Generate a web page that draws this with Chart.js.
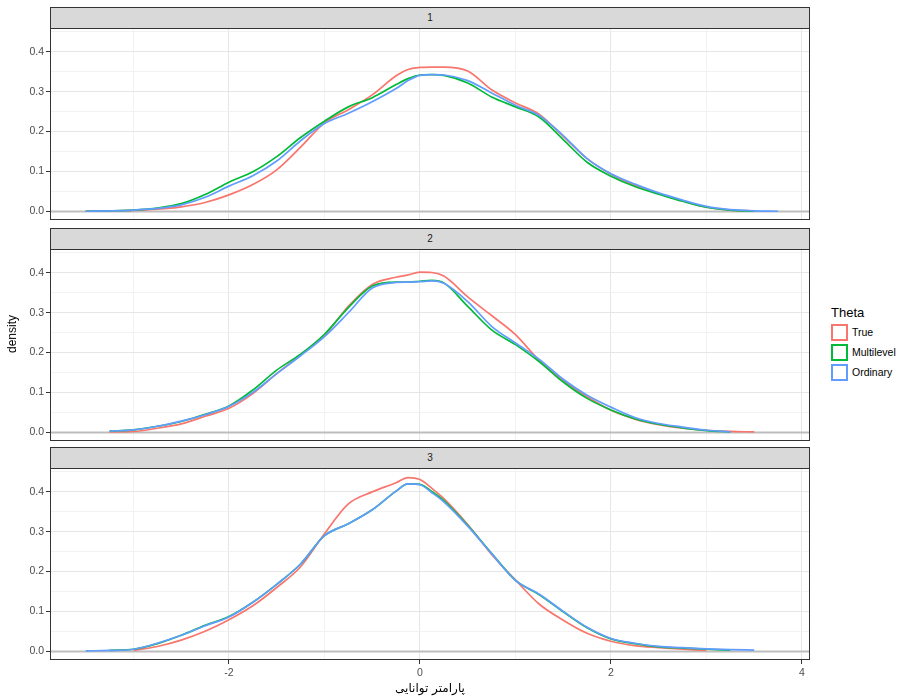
<!DOCTYPE html>
<html>
<head>
<meta charset="utf-8">
<title>Theta density</title>
<script src="https://cdn.jsdelivr.net/npm/chart.js@4/dist/chart.umd.min.js"></script>
<style>
  body { margin: 0; background: #fff; font-family: "Liberation Sans", Arial, sans-serif; }
  #wrap { position: relative; width: 898px; height: 698px; overflow: hidden; }
  .strip {
    position: absolute; left: 50px; width: 760px; height: 22px; box-sizing: border-box;
    background: #d9d9d9; border: 1px solid #333; color: #1a1a1a;
    font-size: 10px; text-align: center; line-height: 20px;
  }
  canvas { position: absolute; left: 0; }
  #ytitle {
    position: absolute; left: 12px; top: 334px; font-size: 12px; color: #000;
    transform: translate(-50%, -50%) rotate(-90deg); white-space: nowrap;
  }
  #xtitle {
    position: absolute; left: 430px; top: 688px; font-size: 12px; color: #000;
    font-family: "DejaVu Sans", sans-serif; transform: translate(-50%, -50%); white-space: nowrap;
  }
  #legend { position: absolute; left: 831px; top: 304px; }
  #legend .title { font-size: 13px; color: #000; height: 18px; line-height: 18px; }
  #legend .row { height: 20px; display: flex; align-items: center; }
  #legend .key { width: 17px; height: 17px; box-sizing: border-box; border: 2px solid; background: #fff; margin-right: 4px; }
  #legend .lab { font-size: 10.5px; color: #000; }
</style>
</head>
<body>
<div id="wrap">
  <div class="strip" style="top:7px">1</div>
  <canvas id="panel1" width="812" height="192" style="top:28px"></canvas>
  <div class="strip" style="top:228px">2</div>
  <canvas id="panel2" width="812" height="192" style="top:249px"></canvas>
  <div class="strip" style="top:447px">3</div>
  <canvas id="panel3" width="812" height="218" style="top:468px"></canvas>
  <div id="ytitle">density</div>
  <div id="xtitle">پارامتر توانایی</div>
  <div id="legend"></div>
</div>
<script>
// evaluation grid shared by all curves
const xs = [-3.5, -3.25, -3.0, -2.75, -2.5, -2.25, -2.0, -1.75, -1.5, -1.25, -1.0, -0.75,
            -0.5, -0.25, -0.125, 0, 0.125, 0.25, 0.5, 0.75, 1.0, 1.25, 1.5, 1.75,
            2.0, 2.25, 2.5, 2.75, 3.0, 3.25, 3.5, 3.75];

// panel 1
const p1True  = [0.000, 0.001, 0.002, 0.005, 0.011, 0.022, 0.041, 0.067, 0.104, 0.161, 0.222, 0.255,
                 0.292, 0.340, 0.356, 0.361, 0.362, 0.362, 0.352, 0.305, 0.272, 0.243, 0.188, 0.132,
                 0.093, 0.065, 0.044, 0.026, 0.010, 0.003, 0.001, null];
const p1Multi = [0.000, 0.001, 0.003, 0.008, 0.019, 0.042, 0.073, 0.099, 0.137, 0.185, 0.226, 0.262,
                 0.285, 0.318, 0.333, 0.342, 0.343, 0.341, 0.322, 0.287, 0.262, 0.236, 0.180, 0.123,
                 0.088, 0.062, 0.043, 0.025, 0.010, 0.003, 0.000, null];
const p1Ord   = [0.000, 0.001, 0.003, 0.007, 0.016, 0.035, 0.063, 0.089, 0.126, 0.177, 0.220, 0.246,
                 0.275, 0.308, 0.328, 0.341, 0.343, 0.342, 0.328, 0.297, 0.266, 0.240, 0.190, 0.132,
                 0.094, 0.068, 0.046, 0.028, 0.012, 0.004, 0.001, 0.000];

// panel 2
const p2True  = [null, 0.001, 0.002, 0.010, 0.021, 0.040, 0.060, 0.097, 0.147, 0.194, 0.243, 0.316,
                 0.371, 0.389, 0.395, 0.402, 0.401, 0.392, 0.340, 0.293, 0.245, 0.180, 0.130, 0.089,
                 0.055, 0.033, 0.019, 0.010, 0.005, 0.002, 0.001, null];
const p2Multi = [null, 0.003, 0.006, 0.015, 0.027, 0.045, 0.066, 0.106, 0.156, 0.196, 0.246, 0.313,
                 0.367, 0.377, 0.377, 0.379, 0.381, 0.375, 0.316, 0.257, 0.220, 0.177, 0.126, 0.085,
                 0.056, 0.034, 0.020, 0.011, 0.004, 0.001, null, null];
const p2Ord   = [null, 0.003, 0.006, 0.015, 0.028, 0.044, 0.065, 0.100, 0.147, 0.192, 0.240, 0.300,
                 0.362, 0.376, 0.377, 0.378, 0.380, 0.374, 0.328, 0.266, 0.224, 0.183, 0.133, 0.093,
                 0.063, 0.037, 0.022, 0.013, 0.005, 0.001, null, null];

// panel 3
const p3True  = [null, null, 0.002, 0.012, 0.028, 0.050, 0.079, 0.114, 0.160, 0.212, 0.295, 0.370,
                 0.400, 0.423, 0.436, 0.431, 0.409, 0.383, 0.318, 0.243, 0.179, 0.118, 0.078, 0.045,
                 0.025, 0.014, 0.009, 0.005, 0.002, null, null, null];
const p3Multi = [null, 0.002, 0.005, 0.019, 0.040, 0.065, 0.087, 0.123, 0.168, 0.219, 0.290, 0.320,
                 0.355, 0.402, 0.420, 0.419, 0.401, 0.378, 0.316, 0.246, 0.178, 0.142, 0.099, 0.059,
                 0.031, 0.019, 0.011, 0.008, 0.005, 0.003, null, null];
const p3Ord   = [0.001, 0.002, 0.005, 0.020, 0.040, 0.064, 0.086, 0.123, 0.168, 0.219, 0.290, 0.320,
                 0.355, 0.402, 0.420, 0.418, 0.398, 0.375, 0.314, 0.245, 0.178, 0.143, 0.100, 0.060,
                 0.032, 0.020, 0.012, 0.009, 0.006, 0.004, 0.003, null];

const seriesNames = ['True', 'Multilevel', 'Ordinary'];
const seriesColors = ['#F8766D', '#00BA38', '#619CFF'];

// axis ticks: labelled breaks and the minor grid between them
const xTicks = [-2, 0, 2, 4];
const xMinor = [-3, -1, 1, 3];
const yTicks = [0, 0.1, 0.2, 0.3, 0.4];
const yMinor = [0.05, 0.15, 0.25, 0.35, 0.45];

const X_MIN = -3.874, X_MAX = 4.084;
const Y_MIN = -0.022, Y_MAX = 0.460;

Chart.defaults.font.family = '"Liberation Sans", Arial, sans-serif';

const panelFrame = {
    id: 'panelFrame',
    beforeDatasetsDraw(chart) {
        // grey reference line at zero density
        const { ctx, chartArea } = chart;
        const y0 = Math.round(chart.scales.y.getPixelForValue(0)) + 0.5;
        ctx.save();
        ctx.strokeStyle = '#bdbdbd';
        ctx.lineWidth = 2;
        ctx.beginPath();
        ctx.moveTo(chartArea.left, y0);
        ctx.lineTo(chartArea.right, y0);
        ctx.stroke();
        ctx.restore();
    },
    afterDraw(chart) {
        const { ctx, chartArea } = chart;
        ctx.save();
        ctx.strokeStyle = '#333333';
        ctx.lineWidth = 1;
        ctx.strokeRect(chartArea.left + 0.5, chartArea.top + 0.5,
                       chartArea.right - chartArea.left - 1, chartArea.bottom - chartArea.top - 1);
        ctx.restore();
    }
};

function gridColor(major, ctx) {
    return major.includes(ctx.tick.value) ? '#e6e6e6' : '#f2f2f2';
}

function makePanel(canvasId, series, showX) {
    const ctx = document.getElementById(canvasId).getContext('2d');
    const xGrid = xMinor.concat(xTicks).sort((a, b) => a - b);
    const yGrid = yMinor.concat(yTicks).sort((a, b) => a - b);

    return new Chart(ctx, {
        type: 'line',
        data: {
            datasets: series.map((vals, i) => ({
                label: seriesNames[i],
                data: xs.map((x, j) => ({ x: x, y: vals[j] })),
                borderColor: seriesColors[i],
                borderWidth: 1.7,
                pointRadius: 0,
                fill: false,
                cubicInterpolationMode: 'monotone',
                order: 3 - i
            }))
        },
        options: {
            responsive: false,
            animation: false,
            devicePixelRatio: 1,
            layout: { padding: { left: 0, right: 2, top: 0, bottom: 0 } },
            plugins: {
                legend: { display: false },
                tooltip: { enabled: false }
            },
            scales: {
                x: {
                    type: 'linear',
                    min: X_MIN,
                    max: X_MAX,
                    afterBuildTicks: s => { s.ticks = xGrid.map(v => ({ value: v })); },
                    afterFit: s => {
                        s.height = showX ? 26 : 0;
                        s.paddingLeft = 0;
                        s.paddingRight = 0;
                    },
                    border: { display: false },
                    grid: {
                        color: c => gridColor(xTicks, c),
                        drawTicks: showX,
                        tickLength: 4,
                        tickColor: c => xTicks.includes(c.tick.value) ? '#333333' : 'rgba(0,0,0,0)'
                    },
                    ticks: {
                        display: showX,
                        autoSkip: false,
                        maxRotation: 0,
                        padding: 3,
                        color: '#4d4d4d',
                        font: { size: 10.5 },
                        callback: v => xTicks.includes(v) ? String(v) : ''
                    }
                },
                y: {
                    type: 'linear',
                    min: Y_MIN,
                    max: Y_MAX,
                    afterBuildTicks: s => { s.ticks = yGrid.map(v => ({ value: v })); },
                    afterFit: s => {
                        s.width = 50;
                        s.paddingTop = 0;
                        s.paddingBottom = 0;
                    },
                    border: { display: false },
                    grid: {
                        color: c => gridColor(yTicks, c),
                        tickLength: 4,
                        tickColor: c => yTicks.includes(c.tick.value) ? '#333333' : 'rgba(0,0,0,0)'
                    },
                    ticks: {
                        autoSkip: false,
                        padding: 2,
                        color: '#4d4d4d',
                        font: { size: 10.5 },
                        callback: v => yTicks.includes(v) ? v.toFixed(1) : ''
                    }
                }
            }
        },
        plugins: [panelFrame]
    });
}

makePanel('panel1', [p1True, p1Multi, p1Ord], false);
makePanel('panel2', [p2True, p2Multi, p2Ord], false);
makePanel('panel3', [p3True, p3Multi, p3Ord], true);

// legend
const legend = document.getElementById('legend');
legend.innerHTML = '<div class="title">Theta</div>' + seriesNames.map((name, i) =>
    `<div class="row"><div class="key" style="border-color:${seriesColors[i]}"></div>` +
    `<span class="lab">${name}</span></div>`).join('');
</script>
</body>
</html>
